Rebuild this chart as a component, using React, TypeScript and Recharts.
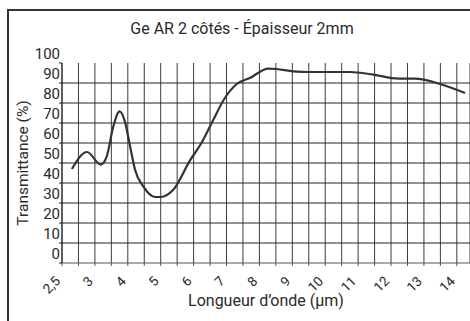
import {
  CartesianGrid,
  Line,
  LineChart,
  ReferenceLine,
  XAxis,
  YAxis,
} from "recharts";

// wavelength (µm) and transmittance (%)
const WAVELENGTH = [
  2.65, 2.88, 3.18, 3.36, 3.56, 3.75, 3.91, 4.07, 4.22, 4.47, 4.83, 5.0, 5.38,
  5.9, 6.22, 6.55, 6.95, 7.31, 7.71, 8.27, 8.52, 9.03, 9.54, 10.0, 10.75,
  11.46, 12.22, 12.73, 13.49, 14.25,
];
const TRANSMITTANCE = [
  47, 55.5, 49.2, 53.3, 68.3, 75.8, 70.8, 58.3, 46.6, 38.3, 33, 33, 36.6, 51.6,
  59.5, 70, 82.5, 89.5, 92.5, 97.2, 97, 95.8, 95.5, 95.5, 95.5, 94.2, 92.2,
  92.2, 89.5, 85,
];

const TICK_LABELS = ["2,5", "3", "4", "5", "6", "7", "8", "9", "10", "11", "12", "13", "14"];
const Y_TICKS = [0, 10, 20, 30, 40, 50, 60, 70, 80, 90, 100];
const Y_GRID = [10, 20, 30, 40, 50, 60, 70, 80, 90];

const FONT = "Roboto, sans-serif";
const INK = "#2a2a2a";

// the x axis is evenly spaced per label: 2,5 -> 3 takes one slot, then 1 µm per slot
const toSlot = (w: number) => (w < 3 ? (w - 2.5) * 2 : w - 2);

const data = WAVELENGTH.map((w, i) => ({ slot: toSlot(w), t: TRANSMITTANCE[i] }));

const xTicks = Array.from({ length: (TICK_LABELS.length - 1) * 2 + 1 }, (_, i) => i / 2);

function XTick(props: any) {
  const { x, y, payload } = props;
  const v = payload.value as number;
  if (!Number.isInteger(v)) return null;
  const px = x - 1;
  const py = y + 14;
  return (
    <text
      x={px}
      y={py}
      textAnchor="end"
      fontSize={13.5}
      fontFamily={FONT}
      fill={INK}
      transform={`rotate(-45 ${px} ${py})`}
    >
      {TICK_LABELS[v]}
    </text>
  );
}

function YTick(props: any) {
  const { x, y, payload } = props;
  return (
    <text
      x={x + 1}
      y={y - 9}
      dy="0.36em"
      textAnchor="end"
      fontSize={15}
      fontFamily={FONT}
      fill={INK}
    >
      {payload.value}
    </text>
  );
}

export default function App() {
  return (
    <div style={{ position: "absolute", left: 0, top: 0, width: 470, height: 321, overflow: "hidden", background: "#fff" }}>
      <div
        style={{
          position: "absolute",
          left: 7,
          top: 9,
          width: 480,
          height: 330,
          borderLeft: "2px solid #333",
          borderTop: "2px solid #333",
        }}
      />
      <div
        style={{
          position: "absolute",
          left: 0,
          top: 19,
          width: 484,
          textAlign: "center",
          fontFamily: FONT,
          fontSize: 16,
          color: INK,
          lineHeight: "20px",
        }}
      >
        Ge AR 2 côtés - Épaisseur 2mm
      </div>
      <div
        style={{
          position: "absolute",
          left: 23,
          top: 163,
          transform: "translate(-50%, -50%) rotate(-90deg)",
          whiteSpace: "nowrap",
          fontFamily: FONT,
          fontSize: 15.5,
          color: INK,
          lineHeight: "20px",
        }}
      >
        Transmittance (%)
      </div>
      <div
        style={{
          position: "absolute",
          left: 62,
          top: 291,
          width: 408,
          textAlign: "center",
          fontFamily: FONT,
          fontSize: 16,
          color: INK,
          lineHeight: "20px",
        }}
      >
        Longueur d’onde (µm)
      </div>
      <div style={{ position: "absolute", left: 0, top: 0 }}>
        <LineChart
          width={470}
          height={321}
          data={data}
          margin={{ top: 63, right: 0, bottom: 18, left: 12 }}
        >
          <CartesianGrid horizontal={false} stroke="#3a3a3a" strokeWidth={1} />
          {Y_GRID.map((v) => (
            <ReferenceLine key={v} y={v} stroke="#222" strokeWidth={1} ifOverflow="extendDomain" />
          ))}
          <XAxis
            dataKey="slot"
            type="number"
            domain={[0, 12.4]}
            ticks={xTicks}
            interval={0}
            height={40}
            tickSize={3}
            tick={<XTick />}
            axisLine={{ stroke: "#555" }}
            tickLine={{ stroke: "#555" }}
            allowDataOverflow
          />
          <YAxis
            type="number"
            domain={[0, 100]}
            ticks={Y_TICKS}
            interval={0}
            width={50}
            tickSize={3}
            tickMargin={0}
            tick={<YTick />}
            axisLine={{ stroke: "#222" }}
            tickLine={{ stroke: "#222" }}
          />
          <Line
            dataKey="t"
            type="monotone"
            stroke="#333"
            strokeWidth={2.2}
            dot={false}
            isAnimationActive={false}
          />
        </LineChart>
      </div>
    </div>
  );
}
